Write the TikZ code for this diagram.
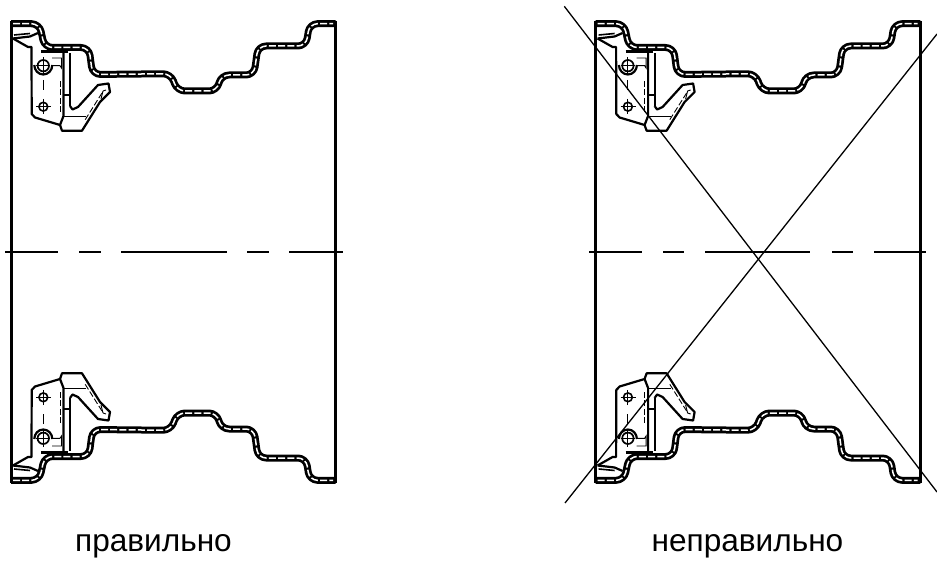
\documentclass[tikz,border=0pt]{standalone}
\usepackage{fontspec}
\setmainfont{Liberation Sans}
\tikzset{
  rimband/.style={line width=7pt,rounded corners=8pt,line join=round},
  rimdash/.style={line width=1.5pt,white,rounded corners=8pt,dash pattern=on 7pt off 2.2pt},
  wall/.style={line width=3pt},
  heavy/.style={line width=2.2pt,line join=round},
  fine/.style={line width=0.9pt},
  finedash/.style={line width=0.9pt,dash pattern=on 6pt off 2.5pt},
  axisline/.style={line width=1.2pt},
  crossline/.style={line width=1.3pt},
  caption/.style={font=\fontsize{31.6pt}{33pt}\selectfont,anchor=base,inner sep=0pt},
  halfrim/.pic={
    % clamp
    \draw[heavy] (13,38.5) -- (30,36.5) -- (38,33);
    \draw[heavy] (13,38.5) -- (28,47) -- (31.5,47) -- (31.7,114) -- (35,117.5) -- (60,125) -- (62,130.7) -- (82,130.7) -- (100,102) -- (110,92) -- (108.5,83.5) -- (98,85) -- (78,107) -- (72.5,109.5) -- (70,106);
    \draw[heavy] (70,106) -- (70,53);
    \draw[heavy] (63.5,53) -- (63.5,116) -- (60,125);
    \draw[heavy] (63.5,95) -- (70,95);
    \draw[heavy] (41,51.5) -- (68,51.5);
    \draw[fine] (63.5,116) -- (86,116);
    \draw[finedash] (60,81) -- (60,113);
    \draw[finedash] (102,93) -- (85,120);
    \draw[fine] (103,91) -- (106,90) (101,99) -- (103,91);
    \draw[line width=1.6pt] (14,35) -- (30,33.5);
    % bolt holes
    \draw[line width=1.7pt] (43.3,65.7) circle[radius=5.7];
    \draw[heavy] (34.3,65) arc[start angle=180,end angle=0,x radius=9,y radius=9.5];
    \draw[fine] (43.3,57) -- (43.3,74) (36,65.7) -- (50,65.7);
    \draw[fine] (52,65.7) -- (60,65.7) -- (61.5,68) -- (61.5,58) -- (52,58);
    \draw[line width=1.6pt] (43.3,106.7) circle[radius=4.4];
    \draw[fine] (43.3,99) -- (43.3,114) (36,106.7) -- (51,106.7);
    \draw[fine] (43.3,80) -- (43.3,90);
    % rim
    \draw[rimband] (11,23.7) -- (39.5,23.7) -- (44.5,47.5) -- (89,47.5) -- (92.5,74.5) -- (171,73.7) -- (177,91) -- (217,91) -- (221,75) -- (254,75) -- (258,46) -- (306,46) -- (309.5,23.7) -- (335.7,23.7);
    \draw[rimdash] (13,23.7) -- (39.5,23.7) -- (44.5,47.5) -- (89,47.5) -- (92.5,74.5) -- (171,73.7) -- (177,91) -- (217,91) -- (221,75) -- (254,75) -- (258,46) -- (306,46) -- (309.5,23.7) -- (333,23.7);
  },
  wheel/.pic={
    \pic at (0,0) {halfrim};
    \pic[yscale=-1] at (0,504) {halfrim};
    \draw[wall] (11,21) -- (11,483);
    \draw[wall] (335.7,21) -- (335.7,483);
  }
}
\begin{document}
\begin{tikzpicture}[x=1pt,y=-1pt]
\useasboundingbox (0,0) rectangle (937,561);
\pic at (0,0) {wheel};
\pic at (584.6,0) {wheel};
\draw[axisline] (5,252) -- (58,252) (79,252) -- (101,252) (121,252) -- (227,252) (247,252) -- (269,252) (289,252) -- (343,252);
\draw[axisline] (589,252) -- (642,252) (663,252) -- (684,252) (705,252) -- (810,252) (832,252) -- (853,252) (874,252) -- (926,252);
\draw[crossline] (564.3,6.3) -- (937,492);
\draw[crossline] (565,503) -- (937,34);
\node[caption] (ok) at (153.5,551.5) {правильно};
\node[caption] (bad) at (747.5,551.5) {неправильно};
\end{tikzpicture}
\end{document}
